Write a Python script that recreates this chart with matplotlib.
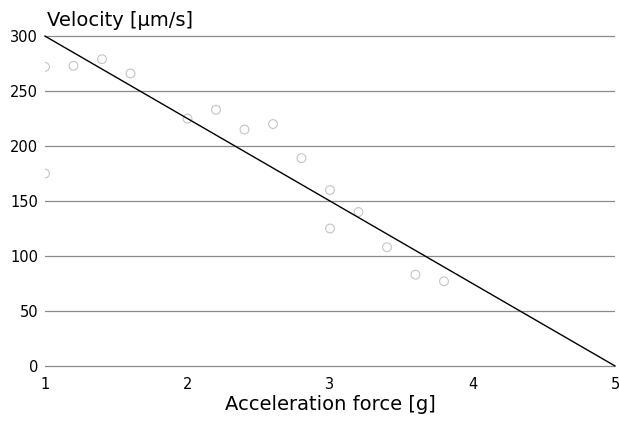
import matplotlib
matplotlib.use("Agg")
import matplotlib.pyplot as plt

plt.rcParams['font.family'] = ['DejaVu Sans']

# measured data points (faint open circles)
accel = [1.0, 1.0, 1.2, 1.4, 1.6, 2.0, 2.2, 2.4, 2.6, 2.8, 3.0, 3.0, 3.2, 3.4, 3.6, 3.8]
velocity = [272, 175, 273, 279, 266, 225, 233, 215, 220, 189, 160, 125, 140, 108, 83, 77]

# fitted line
fit_x = [1, 5]
fit_y = [300, 0]

x_ticks = [1, 2, 3, 4, 5]
y_ticks = [0, 50, 100, 150, 200, 250, 300]

fig = plt.figure(figsize=(6.19, 4.25), dpi=100)
ax = fig.add_axes([0.0727, 0.126, 0.9208, 0.802])

for yv in y_ticks:
    ax.axhline(yv, color='#8a8a8a', lw=0.9, zorder=1)

ax.scatter(accel, velocity, s=40, facecolors='none', edgecolors='#c4c4c4',
           linewidths=0.8, zorder=2)
ax.plot(fit_x, fit_y, color='black', lw=1.0, zorder=3, clip_on=False)

ax.set_xlim(1, 5)
ax.set_ylim(-5, 305)
ax.set_xticks(x_ticks)
ax.set_yticks(y_ticks)
ax.set_xticklabels([str(v) for v in x_ticks], fontsize=10.5)
ax.set_yticklabels([str(v) for v in y_ticks], fontsize=10.5)
ax.tick_params(axis='y', length=0, pad=5)
ax.tick_params(axis='x', length=0, pad=4)
for s in ax.spines.values():
    s.set_visible(False)

ax.set_xlabel('Acceleration force [g]', fontsize=14, labelpad=2)
fig.text(47/619, 1 - 26/425, 'Velocity [μm/s]', fontsize=14, ha='left', va='baseline')

fig.savefig('out.png', dpi=100, facecolor='white')
